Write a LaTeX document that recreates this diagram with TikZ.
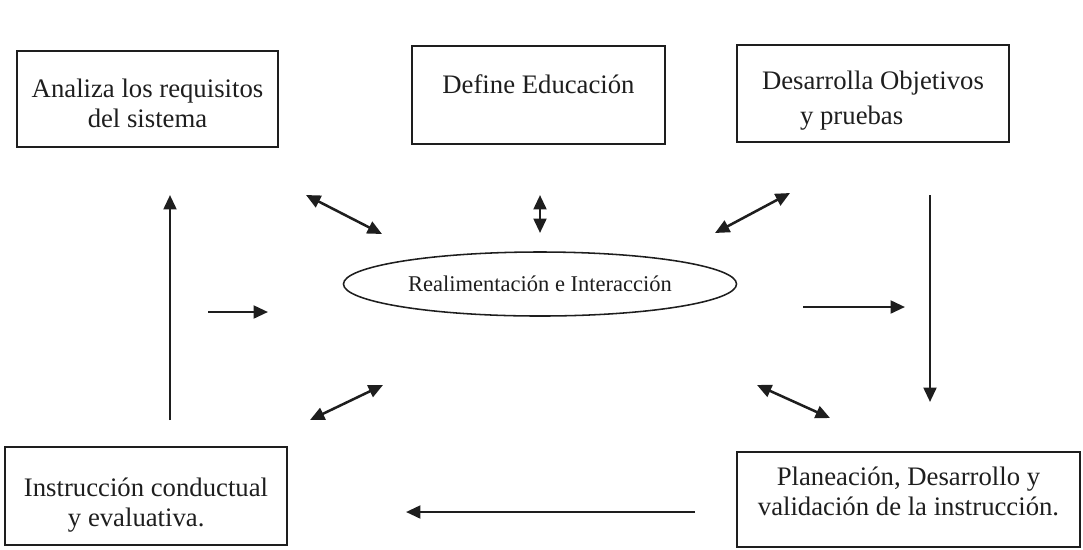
\documentclass[tikz,border=0pt]{standalone}
\usepackage{fontspec}
\setmainfont{Liberation Serif}
\usetikzlibrary{
    shapes.geometric,
    arrows.meta,
    positioning
}
\definecolor{ink}{HTML}{1E1E1E}
\tikzset{
    % Stage box style
    stage/.style={
        rectangle,
        draw=ink,
        line width=1.4pt,
        align=center,
        inner sep=0pt,
        text=ink,
        font=\fontsize{19}{21}\selectfont
    },
    % Central ellipse style
    hub/.style={
        ellipse,
        draw=ink,
        line width=1.1pt,
        inner sep=0pt,
        minimum width=9.825cm,
        minimum height=1.6cm,
        text=ink,
        font=\fontsize{16}{18}\selectfont
    },
    % Arrow styles
    flow/.style={
        -{Triangle[length=3.6mm, width=3.2mm]},
        line width=1.8pt,
        color=ink
    },
    twoway/.style={
        {Triangle[length=3.6mm, width=3.2mm]}-{Triangle[length=3.6mm, width=3.2mm]},
        line width=1.8pt,
        color=ink
    }
}

\begin{document}
\begin{tikzpicture}[x=0.025cm, y=-0.025cm]
        \useasboundingbox (0,0) rectangle (1083,549);

        % Top row
        \node[stage, minimum width=6.525cm, minimum height=2.4cm] (analiza) at (147.5,99) {\rule{0pt}{19pt}Analiza los requisitos\\del sistema};
        \node[stage, minimum width=6.325cm, minimum height=2.45cm, text height=0.5cm, text depth=0.6cm] (define) at (538.5,95) {Define Educación};
        \node[stage, align=left, minimum width=6.8cm, minimum height=2.425cm] (objetivos) at (873,93.5) {\rule{0pt}{23pt}Desarrolla Objetivos\\[4pt]\hspace*{0.95cm}y pruebas};

        % Center
        \node[hub] (realim) at (540,284) {Realimentación e Interacción};

        % Bottom row
        \node[stage, align=left, minimum width=7.05cm, minimum height=2.45cm] (instruccion) at (146,496) {\rule{0pt}{26pt}Instrucción conductual\\\hspace*{1.1cm}y evaluativa.};
        \node[stage, minimum width=8.575cm, minimum height=2.375cm] (planeacion) at (908.5,499.5) {Planeación, Desarrollo y\\validación de la instrucción.\rule[-12pt]{0pt}{12pt}};

        % Arrow ends
        \coordinate (upS) at (170,420);
        \coordinate (upE) at (170,195);
        \coordinate (inS) at (208,312);
        \coordinate (inE) at (268,312);
        \coordinate (tlA) at (306,195);
        \coordinate (tlB) at (382,234);
        \coordinate (tcA) at (540,195);
        \coordinate (tcB) at (540,233);
        \coordinate (trA) at (790,193);
        \coordinate (trB) at (715,233);
        \coordinate (outS) at (803,307);
        \coordinate (outE) at (905,307);
        \coordinate (dnS) at (930,195);
        \coordinate (dnE) at (930,402);
        \coordinate (blA) at (310,420);
        \coordinate (blB) at (383,385);
        \coordinate (brA) at (757,385);
        \coordinate (brB) at (830,418);
        \coordinate (btS) at (695,512);
        \coordinate (btE) at (406,512);

        % Connections
        \draw[flow] (upS) -- (upE);
        \draw[flow] (inS) -- (inE);
        \draw[twoway] (tlA) -- (tlB);
        \draw[twoway] (tcA) -- (tcB);
        \draw[twoway] (trA) -- (trB);
        \draw[flow] (outS) -- (outE);
        \draw[flow] (dnS) -- (dnE);
        \draw[twoway] (blA) -- (blB);
        \draw[twoway] (brA) -- (brB);
        \draw[flow] (btS) -- (btE);

    \end{tikzpicture}
\end{document}
